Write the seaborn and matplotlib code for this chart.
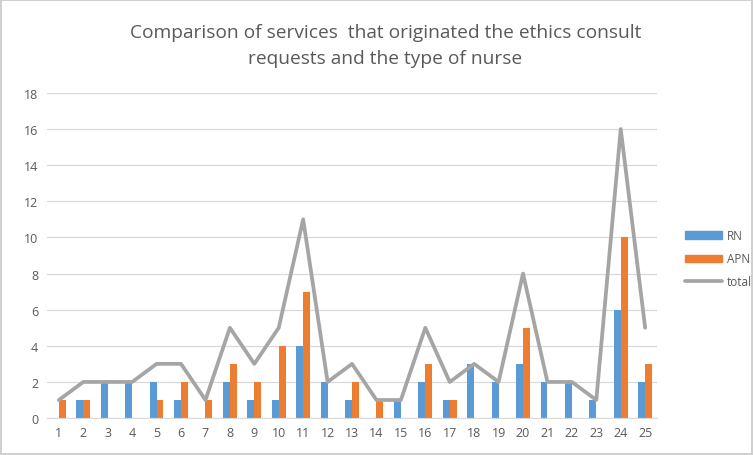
import matplotlib
matplotlib.use("Agg")
import matplotlib.pyplot as plt
from matplotlib.patches import Patch
from matplotlib.lines import Line2D
import pandas as pd
import numpy as np
import seaborn as sns

# data
categories = [str(i) for i in range(1, 26)]
rn = [0, 1, 2, 2, 2, 1, 0, 2, 1, 1, 4, 2, 1, 0, 1, 2, 1, 3, 2, 3, 2, 2, 1, 6, 2]
apn = [1, 1, 0, 0, 1, 2, 1, 3, 2, 4, 7, 0, 2, 1, 0, 3, 1, 0, 0, 5, 0, 0, 0, 10, 3]
total = [1, 2, 2, 2, 3, 3, 1, 5, 3, 5, 11, 2, 3, 1, 1, 5, 2, 3, 2, 8, 2, 2, 1, 16, 5]

sns.set_style("white")
plt.rcParams["font.family"] = ["Open Sans", "DejaVu Sans"]

df = pd.DataFrame({"cat": categories * 2,
                   "value": rn + apn,
                   "nurse": ["RN"] * len(rn) + ["APN"] * len(apn)})

colors = {"RN": "#5B9BD5", "APN": "#ED7D31"}
grey = "#A5A5A5"
text_col = "#595959"

fig = plt.figure(figsize=(7.53, 4.56), dpi=100)
fig.patch.set_edgecolor("#D0D0D0")
fig.patch.set_linewidth(1.5)
ax = fig.add_axes([0.062, 0.081, 0.811, 0.713])

sns.barplot(data=df, x="cat", y="value", hue="nurse", palette=colors,
            width=0.56, gap=0, saturation=1, linewidth=0, ax=ax, legend=False)
sns.lineplot(x=np.arange(len(total)), y=total, color=grey, linewidth=2.7, ax=ax)

ax.set_ylim(0, 18)
ax.set_yticks(range(0, 19, 2))
ax.set_xlim(-0.5, len(categories) - 0.5)
ax.yaxis.grid(True, color="#D9D9D9", linewidth=0.9)
ax.set_axisbelow(True)
for s in ["top", "right", "left"]:
    ax.spines[s].set_visible(False)
ax.spines["bottom"].set_color("#D9D9D9")
ax.tick_params(axis="both", length=0, labelsize=9, labelcolor=text_col, pad=6)
ax.set_xlabel("")
ax.set_ylabel("")

fig.suptitle("Comparison of services  that originated the ethics consult\nrequests and the type of nurse",
             x=0.512, y=0.948, fontsize=13.8, color=text_col, linespacing=1.6)

handles = [Patch(color=colors["RN"]), Patch(color=colors["APN"]),
           Line2D([0], [0], color=grey, linewidth=2.7)]
fig.legend(handles, ["RN", "APN", "total"], loc="center left",
           bbox_to_anchor=(0.895, 0.43), frameon=False, fontsize=8.5,
           labelcolor=text_col, handlelength=3.2, handleheight=0.6,
           labelspacing=0.85, handletextpad=0.4)

fig.savefig("out.png", dpi=100)
